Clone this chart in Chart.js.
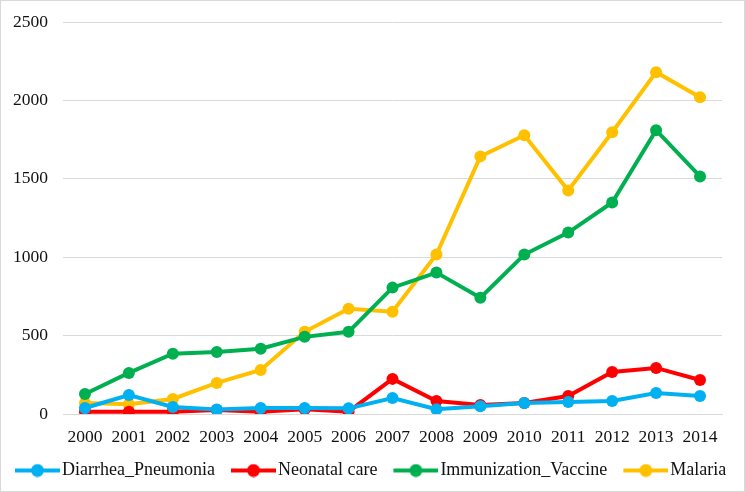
<!DOCTYPE html>
<html>
<head>
<meta charset="utf-8">
<script src="https://cdn.jsdelivr.net/npm/chart.js@4.4.1/dist/chart.umd.min.js"></script>
<style>
    html, body { margin: 0; padding: 0; background: #fff; }
    #wrap {
        width: 745px; height: 492px; box-sizing: border-box;
        border: 1px solid #d9d9d9; position: relative;
    }
</style>
</head>
<body>
<div id="wrap"><canvas id="trendChart"></canvas></div>
<script>
const years = ['2000', '2001', '2002', '2003', '2004', '2005', '2006', '2007',
    '2008', '2009', '2010', '2011', '2012', '2013', '2014'];
const diarrheaPneumonia = [38, 121, 45, 28, 38, 38, 36, 102, 30, 50, 70, 77, 83, 134, 115];
const neonatalCare = [15, 15, 15, 25, 15, 30, 15, 224, 83, 58, 70, 115, 268, 294, 217];
const immunizationVaccine = [128, 262, 384, 396, 416, 492, 524, 806, 902, 742, 1017, 1157, 1349, 1810, 1515];
const malaria = [70, 62, 96, 198, 281, 524, 671, 652, 1017, 1643, 1778, 1426, 1797, 2180, 2020];
const yTicks = [0, 500, 1000, 1500, 2000, 2500];

const FONT = "'Liberation Serif', 'Times New Roman', serif";

// line + dot legend marker; the blank left part of the image acts as the gap between items
function legendMarker(color) {
    const c = document.createElement('canvas');
    c.width = 68;
    c.height = 14;
    const g = c.getContext('2d');
    g.strokeStyle = color;
    g.lineWidth = 4;
    g.beginPath();
    g.moveTo(23, 7);
    g.lineTo(68, 7);
    g.stroke();
    g.fillStyle = color;
    g.beginPath();
    g.arc(45.5, 7, 6.5, 0, Math.PI * 2);
    g.fill();
    return c;
}

function series(label, data, color) {
    return {
        label: label,
        data: data,
        borderColor: color,
        backgroundColor: color,
        borderWidth: 4,
        pointRadius: 6,
        pointBorderWidth: 0,
        pointHoverRadius: 6,
        pointStyle: 'circle',
        legendMarker: legendMarker(color),
        tension: 0
    };
}

const ctx = document.getElementById('trendChart').getContext('2d');
new Chart(ctx, {
    type: 'line',
    data: {
        labels: years,
        datasets: [
            series('Diarrhea_Pneumonia', diarrheaPneumonia, '#00b0f0'),
            series('Neonatal care', neonatalCare, '#ff0000'),
            series('Immunization_Vaccine', immunizationVaccine, '#00b050'),
            series('Malaria', malaria, '#ffc000')
        ]
    },
    options: {
        responsive: true,
        maintainAspectRatio: false,
        animation: false,
        layout: { padding: { top: 21, left: -2, right: 0, bottom: 1.5 } },
        plugins: {
            tooltip: { enabled: false },
            legend: {
                position: 'bottom',
                align: 'start',
                labels: {
                    font: { family: FONT, size: 18 },
                    color: '#111',
                    usePointStyle: true,
                    pointStyleWidth: 54,
                    boxHeight: 14,
                    padding: 0,
                    generateLabels: (chart) => chart.data.datasets.map((ds, i) => ({
                        text: ds.label,
                        pointStyle: ds.legendMarker,
                        fillStyle: ds.borderColor,
                        strokeStyle: ds.borderColor,
                        lineWidth: 0,
                        hidden: false,
                        datasetIndex: i,
                        fontColor: '#111'
                    }))
                }
            }
        },
        scales: {
            x: {
                offset: true,
                grid: { display: false, drawTicks: false },
                border: { display: true, color: '#d9d9d9', width: 1 },
                ticks: {
                    font: { family: FONT, size: 17.5, lineHeight: 1.0 },
                    color: '#111',
                    padding: 15,
                    maxRotation: 0
                }
            },
            y: {
                min: 0,
                max: 2500,
                afterBuildTicks: (axis) => { axis.ticks = yTicks.map(v => ({ value: v })); },
                afterFit: (axis) => {
                    axis.width = 64;
                    axis.paddingTop = 0;
                    axis.paddingBottom = 0;
                },
                grid: { color: '#d9d9d9', lineWidth: 1, drawTicks: false },
                border: { display: false },
                ticks: {
                    font: { family: FONT, size: 17.5 },
                    color: '#111',
                    padding: 15,
                    callback: (v) => String(v)
                }
            },
            // empty right-hand axis, only reserves the gap right of the plot
            spacer: {
                position: 'right',
                min: 0,
                max: 2500,
                afterFit: (axis) => {
                    axis.width = 22;
                    axis.paddingTop = 0;
                    axis.paddingBottom = 0;
                },
                grid: { display: false, drawTicks: false },
                border: { display: false },
                ticks: { display: false }
            }
        }
    }
});
</script>
</body>
</html>
